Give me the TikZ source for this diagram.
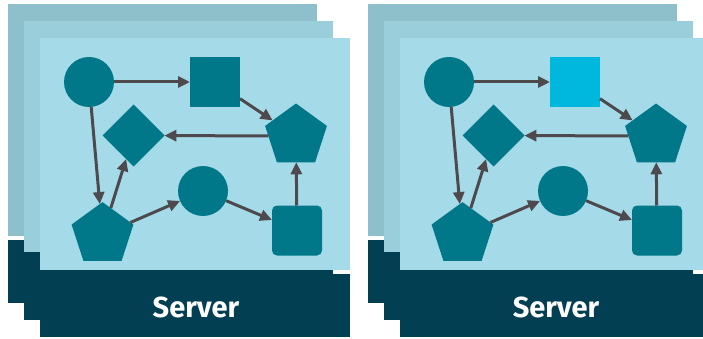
\documentclass[tikz,border=0pt]{standalone}
\usepackage{fontspec}
\setsansfont{Fira Sans}
\usetikzlibrary{shapes.geometric,arrows.meta}

\definecolor{sheetA}{HTML}{8EC0CC}
\definecolor{sheetB}{HTML}{9BCEDB}
\definecolor{sheetC}{HTML}{A5DBE8}
\definecolor{basecol}{HTML}{033F52}
\definecolor{proccol}{HTML}{00788A}
\definecolor{hilite}{HTML}{00B7DE}
\definecolor{linkcol}{HTML}{4D494D}

\begin{document}
\begin{tikzpicture}[x=1pt,y=-1pt,
    every node/.style={inner sep=0pt,outer sep=0pt},
    proc/.style={fill=proccol,draw=none},
    roundproc/.style={proc,circle,minimum size=50pt},
    boxproc/.style={proc,rectangle,minimum size=50pt},
    pentproc/.style={proc,regular polygon,regular polygon sides=5,minimum size=65pt},
    diamproc/.style={proc,diamond,minimum size=62pt},
    link/.style={draw=linkcol,line width=3pt,-{Triangle[length=12pt,width=11pt]}},
    servername/.style={text=white,font=\sffamily\bfseries\fontsize{29}{32}\selectfont}]

    \useasboundingbox (0,0) rectangle (703,339);

    \foreach \dx/\p/\sqc in {0/L/proccol, 360/R/hilite} {
    \begin{scope}[xshift=\dx pt]
        % Stacked sheets, back to front
        \fill[sheetA] (8,4) rectangle (317,236);
        \fill[basecol] (8,240) rectangle (317,303);
        \fill[sheetB] (24,21) rectangle (333,252);
        \fill[basecol] (24,256) rectangle (333,320);
        \fill[sheetC] (40,38) rectangle (350,270);
        \fill[basecol] (40,274) rectangle (350,337);

        % Processes
        \node[roundproc] (\p-start) at (89,82) {};
        \node[boxproc,fill=\sqc] (\p-queue) at (215,82) {};
        \node[pentproc] (\p-merge) at (296,136) {};
        \node[diamproc] (\p-check) at (133.5,135.5) {};
        \node[pentproc] (\p-split) at (102.5,234.6) {};
        \node[roundproc] (\p-step) at (203,191) {};
        \node[boxproc,rounded corners=5pt] (\p-store) at (297,230.5) {};

        % Data flow
        \draw[link] (\p-start) -- (\p-queue);
        \draw[link] (\p-queue) -- (\p-merge);
        \draw[link] (\p-merge) -- (\p-check);
        \draw[link] (\p-start) -- (\p-split);
        \draw[link] (\p-split) -- (\p-check);
        \draw[link] (\p-split) -- (\p-step);
        \draw[link] (\p-step) -- (\p-store);
        \draw[link] (\p-store) -- (\p-merge);

        % Caption
        \node[servername,anchor=base] (\p-name) at (196,317) {Server};
    \end{scope}
    }
\end{tikzpicture}
\end{document}
